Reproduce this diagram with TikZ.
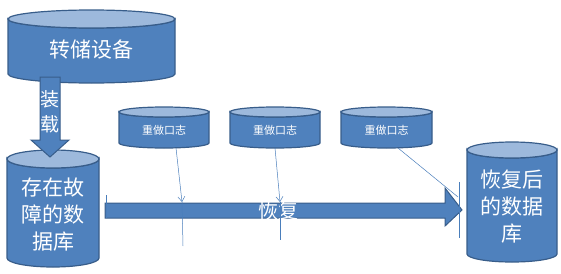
\documentclass[tikz,border=0pt]{standalone}
\usepackage{fontspec}
\setmainfont{Noto Sans CJK SC}
\usetikzlibrary{arrows.meta}
\definecolor{bodyc}{HTML}{4F81BD}
\definecolor{edgec}{HTML}{385D8A}
\definecolor{topc}{HTML}{9DB9DC}
\definecolor{thinc}{HTML}{4A7EBB}
\tikzset{
  cylbody/.style={fill=bodyc,draw=edgec,line width=1.2pt},
  cyltop/.style={fill=topc,draw=edgec,line width=1.2pt},
  bigarrow/.style={fill=bodyc,draw=edgec,line width=1pt,line join=miter},
  lbl/.style={text=white,align=center,inner sep=0pt},
  conn/.style={draw=thinc,line width=0.5pt},
  connarrow/.style={conn,-{Straight Barb[length=5pt,width=7pt]}}
}
\newcommand\drawcyl[5]{%
  \path[cylbody] ({#1-#2},#3) -- ({#1-#2},#4)
    arc[start angle=180,end angle=0,x radius=#2,y radius=#5]
    -- ({#1+#2},#3)
    arc[start angle=0,end angle=180,x radius=#2,y radius=#5] -- cycle;
  \path[cyltop] (#1,#3) ellipse[x radius=#2,y radius=#5];
}
\begin{document}
\begin{tikzpicture}[x=1pt,y=-1pt]
\useasboundingbox (0,0) rectangle (561,273);
% dump device
\drawcyl{91.5}{83.5}{19}{74}{9}
\node[lbl,font=\fontsize{21}{21}\selectfont] (dump) at (91.5,50) {转储设备};
% faulty database
\drawcyl{53}{46}{159}{258}{9}
\node[lbl,font=\fontsize{21}{27}\selectfont] (faulty) at (53,215) {存在故\\障的数\\据库};
% load arrow
\path[bigarrow] (40,77) -- (60,77) -- (60,140) -- (69,140) -- (50,157) -- (31,140) -- (40,140) -- cycle;
\node[lbl,font=\fontsize{19}{25}\selectfont] (load) at (50,112) {装\\载};
% redo logs
\drawcyl{164}{45}{112}{143}{5}
\node[lbl,font=\fontsize{11}{11}\selectfont] (log1) at (164,130) {重做口志};
\drawcyl{275}{45}{112}{143}{5}
\node[lbl,font=\fontsize{11}{11}\selectfont] (log2) at (275,130) {重做口志};
\drawcyl{386.5}{45.5}{112}{143}{5}
\node[lbl,font=\fontsize{11}{11}\selectfont] (log3) at (386.5,130) {重做口志};
% recovery arrow
\path[bigarrow] (105,203) -- (445,203) -- (445,188) -- (462,210) -- (445,226) -- (445,218) -- (105,218) -- cycle;
\node[lbl,font=\fontsize{20}{20}\selectfont] (recover) at (278,211) {恢复};
% recovered database
\drawcyl{512}{45}{150}{254}{8}
\node[lbl,font=\fontsize{21}{27}\selectfont] (restored) at (512,207) {恢复后\\的数据\\库};
% connectors
\coordinate (l1b) at (176,148);
\coordinate (h1) at (182,202);
\coordinate (e1) at (183,246);
\coordinate (l2b) at (275,148);
\coordinate (h2) at (280,202);
\coordinate (e2) at (280,240);
\coordinate (l3b) at (398,148);
\coordinate (h3) at (458,197);
\coordinate (s0a) at (106,195);
\coordinate (s0b) at (106,218);
\coordinate (s1a) at (459,182);
\coordinate (s1b) at (459,238);
\draw[connarrow] (l1b) -- (h1);
\draw[conn] (h1) -- (e1);
\draw[connarrow] (l2b) -- (h2);
\draw[conn] (h2) -- (e2);
\draw[conn] (l3b) -- (h3);
\draw[conn] (s0a) -- (s0b);
\draw[conn] (s1a) -- (s1b);
\end{tikzpicture}
\end{document}
